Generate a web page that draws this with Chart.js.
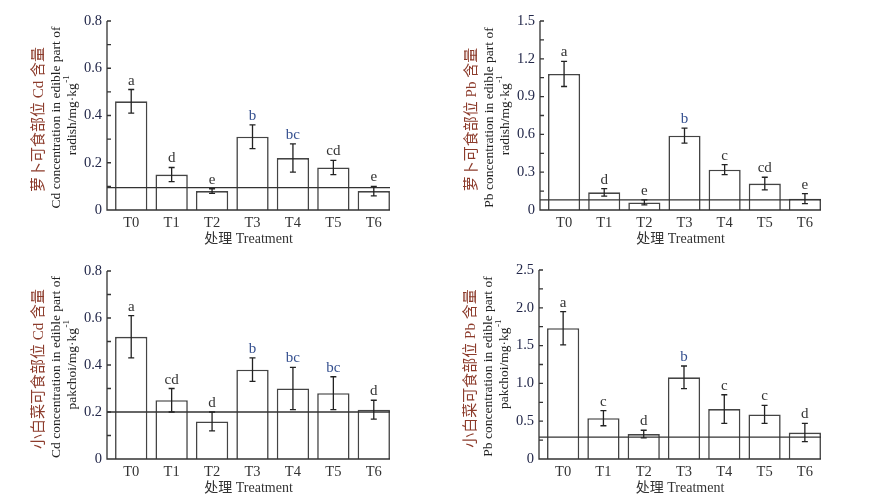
<!DOCTYPE html>
<html>
<head>
<meta charset="utf-8">
<script src="https://cdn.jsdelivr.net/npm/chart.js"></script>
<style>
  body { margin: 0; background: #fff; }
  #wrap { position: relative; width: 876px; height: 499px; }
  canvas { position: absolute; }
</style>
</head>
<body>
<div id="wrap">
  <canvas id="radishCd" width="438" height="250" style="left:0;top:0"></canvas>
  <canvas id="radishPb" width="438" height="250" style="left:438px;top:0"></canvas>
  <canvas id="pakchoiCd" width="438" height="249" style="left:0;top:250px"></canvas>
  <canvas id="pakchoiPb" width="438" height="249" style="left:438px;top:250px"></canvas>
</div>
<script>
// treatments on the x axis
const treatments = ['T0', 'T1', 'T2', 'T3', 'T4', 'T5', 'T6'];

// radish, Cd (mg/kg)
const radishCd = [0.46, 0.15, 0.08, 0.31, 0.22, 0.18, 0.08];
const radishCdErr = [0.05, 0.03, 0.01, 0.05, 0.06, 0.03, 0.02];
const radishCdSig = ['a', 'd', 'e', 'b', 'bc', 'cd', 'e'];

// radish, Pb
const radishPb = [1.08, 0.14, 0.06, 0.59, 0.32, 0.21, 0.09];
const radishPbErr = [0.10, 0.03, 0.02, 0.06, 0.04, 0.05, 0.04];
const radishPbSig = ['a', 'd', 'e', 'b', 'c', 'cd', 'e'];

// pakchoi, Cd
const pakchoiCd = [0.52, 0.25, 0.16, 0.38, 0.30, 0.28, 0.21];
const pakchoiCdErr = [0.09, 0.05, 0.04, 0.05, 0.09, 0.07, 0.04];
const pakchoiCdSig = ['a', 'cd', 'd', 'b', 'bc', 'bc', 'd'];

// pakchoi, Pb
const pakchoiPb = [1.73, 0.54, 0.33, 1.08, 0.66, 0.59, 0.35];
const pakchoiPbErr = [0.22, 0.10, 0.05, 0.15, 0.19, 0.12, 0.12];
const pakchoiPbSig = ['a', 'c', 'd', 'b', 'c', 'c', 'd'];

// food safety limit lines
const limits = [0.095, 0.08, 0.2, 0.29];

const SERIF = '"Liberation Serif", "Noto Sans CJK SC", serif';

const annotate = {
  id: 'annotate',
  afterDatasetsDraw(chart, args, opts) {
    const { ctx, chartArea: a, scales: { x, y } } = chart;
    const ax = a.left - 4;
    const ar = a.right - 4;
    ctx.save();
    ctx.strokeStyle = '#333';
    ctx.lineWidth = 1.3;

    // axis lines and inward ticks
    ctx.beginPath();
    ctx.moveTo(ax, y.getPixelForValue(y.max));
    ctx.lineTo(ax, a.bottom);
    ctx.lineTo(ar, a.bottom);
    y.ticks.forEach(t => {
      const py = y.getPixelForValue(t.value);
      ctx.moveTo(ax, py);
      ctx.lineTo(ax + 4, py);
    });
    ctx.stroke();

    // limit line
    const ly = y.getPixelForValue(opts.limit);
    ctx.beginPath();
    ctx.moveTo(ax, ly);
    ctx.lineTo(ar, ly);
    ctx.stroke();

    // error bars and letters
    ctx.strokeStyle = '#222';
    ctx.font = '15px ' + SERIF;
    ctx.textAlign = 'center';
    ctx.textBaseline = 'alphabetic';
    chart.getDatasetMeta(0).data.forEach((bar, i) => {
      const v = opts.values[i], e = opts.errors[i];
      const top = y.getPixelForValue(v + e);
      const bot = y.getPixelForValue(v - e);
      ctx.beginPath();
      ctx.moveTo(bar.x, top); ctx.lineTo(bar.x, bot);
      ctx.moveTo(bar.x - 3, top); ctx.lineTo(bar.x + 3, top);
      ctx.moveTo(bar.x - 3, bot); ctx.lineTo(bar.x + 3, bot);
      ctx.stroke();
      const s = opts.letters[i];
      ctx.fillStyle = s.includes('b') ? '#35508f' : '#333';
      ctx.fillText(s, bar.x, top - 5);
    });

    // x title
    ctx.fillStyle = '#333';
    ctx.font = '14px ' + SERIF;
    ctx.textBaseline = 'middle';
    ctx.fillText('处理 Treatment', (ax + ar) / 2, a.bottom + 29);

    // y title, three rotated lines
    const cy = (a.top + a.bottom) / 2;
    ctx.save();
    ctx.translate(ax - 68, cy + 4);
    ctx.rotate(-Math.PI / 2);
    ctx.fillStyle = '#8c3b2b';
    ctx.font = '15px ' + SERIF;
    ctx.fillText(opts.titleCn, 0, 0);
    ctx.restore();

    ctx.save();
    ctx.translate(ax - 51, cy + 2);
    ctx.rotate(-Math.PI / 2);
    ctx.fillStyle = '#222';
    ctx.font = '13.5px ' + SERIF;
    ctx.fillText(opts.titleEn, 0, 0);
    ctx.restore();

    ctx.save();
    ctx.translate(ax - 35, cy);
    ctx.rotate(-Math.PI / 2);
    ctx.fillStyle = '#222';
    ctx.font = '13.5px ' + SERIF;
    const mainW = ctx.measureText(opts.unit).width;
    ctx.font = '9px ' + SERIF;
    const supW = ctx.measureText('-1').width;
    const x0 = -(mainW + supW) / 2;
    ctx.textAlign = 'left';
    ctx.font = '13.5px ' + SERIF;
    ctx.fillText(opts.unit, x0, 0);
    ctx.font = '9px ' + SERIF;
    ctx.fillText('-1', x0 + mainW + 0.5, -5);
    ctx.restore();

    ctx.restore();
  }
};

function makePanel(id, values, errors, letters, limit, max, step, titleCn, titleEn, unit, area) {
  const el = document.getElementById(id);
  const yW = 40, xH = 38;
  return new Chart(el, {
    type: 'bar',
    data: {
      labels: treatments,
      datasets: [{
        data: values,
        backgroundColor: '#fff',
        borderColor: '#444',
        borderWidth: 1.6,
        barPercentage: 0.8,
        categoryPercentage: 1.0
      }]
    },
    options: {
      responsive: false,
      animation: false,
      events: [],
      layout: {
        padding: {
          left: area.left - yW,
          top: area.top,
          right: el.width - area.right,
          bottom: el.height - area.bottom - xH
        }
      },
      plugins: {
        legend: { display: false },
        tooltip: { enabled: false },
        annotate: { values, errors, letters, limit, titleCn, titleEn, unit }
      },
      scales: {
        x: {
          grid: { display: false, drawTicks: false },
          border: { display: false },
          ticks: { color: '#333', font: { family: SERIF, size: 14.5 }, padding: 4 },
          afterFit: s => { s.height = xH; }
        },
        y: {
          min: 0,
          max: max,
          grid: { display: false, drawTicks: false },
          border: { display: false },
          ticks: {
            stepSize: step,
            autoSkip: false,
            padding: 9,
            color: '#23284a',
            font: { family: SERIF, size: 14.5 },
            callback: (v, i) => i % 2 ? '' : (v === 0 ? '0' : v.toFixed(1))
          },
          afterFit: s => { s.width = yW; }
        }
      }
    },
    plugins: [annotate]
  });
}

makePanel('radishCd', radishCd, radishCdErr, radishCdSig, limits[0], 0.8, 0.1,
  '萝卜可食部位 Cd 含量', 'Cd concentration in edible part of', 'radish/mg·kg',
  { left: 111, top: 21, right: 394, bottom: 210 });
makePanel('radishPb', radishPb, radishPbErr, radishPbSig, limits[1], 1.5, 0.15,
  '萝卜可食部位 Pb 含量', 'Pb concentration in edible part of', 'radish/mg·kg',
  { left: 106, top: 21, right: 387, bottom: 210 });
makePanel('pakchoiCd', pakchoiCd, pakchoiCdErr, pakchoiCdSig, limits[2], 0.8, 0.1,
  '小白菜可食部位 Cd 含量', 'Cd concentration in edible part of', 'pakchoi/mg·kg',
  { left: 111, top: 21, right: 394, bottom: 209 });
makePanel('pakchoiPb', pakchoiPb, pakchoiPbErr, pakchoiPbSig, limits[3], 2.5, 0.25,
  '小白菜可食部位 Pb 含量', 'Pb concentration in edible part of', 'pakchoi/mg·kg',
  { left: 105, top: 20, right: 387, bottom: 209 });
</script>
</body>
</html>
